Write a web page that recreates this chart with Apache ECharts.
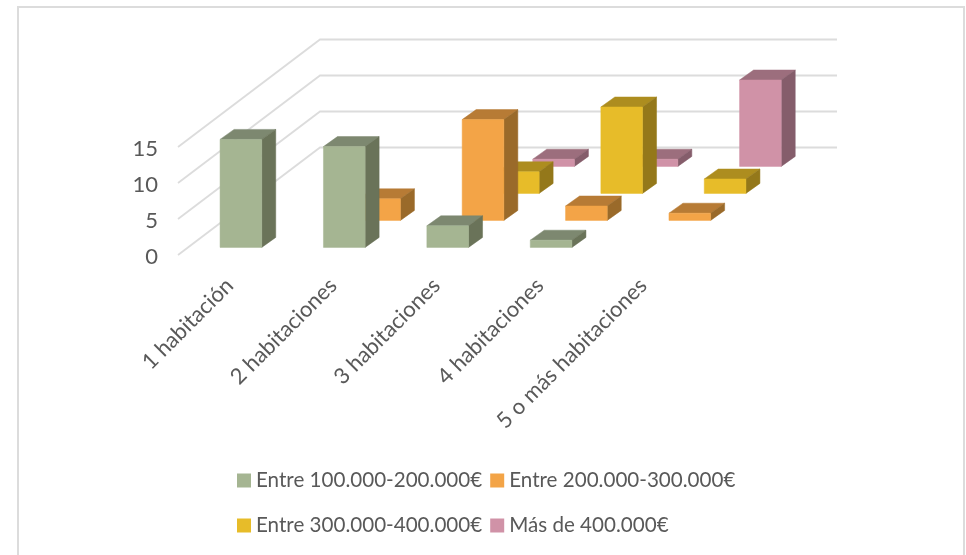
<!DOCTYPE html>
<html><head><meta charset="utf-8">
<style>html,body{margin:0;padding:0;background:#fff}#c{width:966px;height:555px}</style>
<script src="https://cdn.jsdelivr.net/npm/echarts@6/dist/echarts.min.js"></script>
</head><body><div id="c"></div>
<script>
const categories = ['1 habitación','2 habitaciones','3 habitaciones','4 habitaciones','5 o más habitaciones'];
const seriesNames = ['Entre 100.000-200.000€','Entre 200.000-300.000€','Entre 300.000-400.000€','Más de 400.000€'];
const values1 = [15,14,3,1,0];
const values2 = [0,3,14,2,1];
const values3 = [0,0,3,12,2];
const values4 = [0,0,1,1,12];
const yTicks = [0,5,10,15];
const allValues = [values1,values2,values3,values4];
const frontColors = ['#A5B592','#F3A447','#E7BC29','#D092A7'];
const topColors = ['#7D8870','#B77B35','#AD8D1F','#9C6E7D'];
const sideColors = ['#6A7359','#9A6A2A','#94781A','#855D6B'];

const WALL_DX = 142, WALL_DY = -107.5;      // floor depth of the 3D box
const FIRST_DX = 11.2, FIRST_DY = -7.6;     // first row from the front edge
const ROW_DX = 35.3, ROW_DY = -27;          // spacing between rows
const BAR_DX = 14, BAR_DY = -10;            // depth of one bar
const BAR_W = 0.403;                        // share of the category band

function barRenderer(row){
  return function(params, api){
    const cat = api.value(0), v = api.value(1);
    if(!v) return null;
    const band = api.size([1,0])[0], w = band*BAR_W;
    const ox = FIRST_DX + ROW_DX*row, oy = FIRST_DY + ROW_DY*row;
    const base = api.coord([cat,0]), top = api.coord([cat,v]);
    const x0 = base[0]+ox-w/2, x1 = x0+w, yb = base[1]+oy, yt = top[1]+oy;
    const poly = (pts,fill)=>({type:'polygon',shape:{points:pts},style:{fill:fill,stroke:fill,lineWidth:0.5}});
    return {type:'group',children:[
      poly([[x0,yt],[x1,yt],[x1+BAR_DX,yt+BAR_DY],[x0+BAR_DX,yt+BAR_DY]],topColors[row]),
      poly([[x1,yt],[x1+BAR_DX,yt+BAR_DY],[x1+BAR_DX,yb+BAR_DY],[x1,yb]],sideColors[row]),
      poly([[x0,yt],[x1,yt],[x1,yb],[x0,yb]],frontColors[row])
    ]};
  };
}
function wallRenderer(params, api){
  const y = api.coord([0,api.value(0)])[1], cs = params.coordSys;
  return {type:'polyline',shape:{points:[[cs.x,y],[cs.x+WALL_DX,y+WALL_DY],[cs.x+cs.width+WALL_DX,y+WALL_DY]]},
    style:{fill:'none',stroke:'#DCDCDC',lineWidth:1.8}};
}
const font = 'Lato';
const chart = echarts.init(document.getElementById('c'),null,{renderer:'canvas'});
chart.setOption({
  animation:false,
  backgroundColor:'#fff',
  graphic:[{type:'rect',shape:{x:18,y:7,width:946,height:570},style:{fill:'none',stroke:'#DCDCDC',lineWidth:2},silent:true}],
  legend:[
    {data:seriesNames.slice(0,2),left:237,top:470,itemWidth:14,itemHeight:14,itemGap:8,icon:'rect',
     textStyle:{fontFamily:font,fontSize:20.6,color:'#595959'},selectedMode:false,padding:0},
    {data:seriesNames.slice(2),left:237,top:515,itemWidth:14,itemHeight:14,itemGap:8,icon:'rect',
     textStyle:{fontFamily:font,fontSize:20.6,color:'#595959'},selectedMode:false,padding:0}
  ],
  grid:{left:178,top:147,width:517,height:108,containLabel:false},
  xAxis:{type:'category',data:categories,axisLine:{show:false},axisTick:{show:false},splitLine:{show:false},
    axisLabel:{rotate:45,interval:0,margin:27,fontFamily:font,fontSize:22,color:'#595959'}},
  yAxis:{type:'value',min:0,max:15,interval:5,axisLine:{show:false},axisTick:{show:false},splitLine:{show:false},
    axisLabel:{margin:20,formatter:v=>yTicks.includes(v)?'{t|'+v+'}':'',
      rich:{t:{fontFamily:font,fontSize:22,color:'#595959',padding:[4,0,0,0]}}}},
  series:[
    {type:'custom',name:'wall',silent:true,z:1,clip:false,data:yTicks.map(v=>[v]),encode:{y:0},renderItem:wallRenderer}
  ].concat(seriesNames.map((n,i)=>({
    type:'custom',name:n,z:10-i,clip:false,silent:true,
    itemStyle:{color:frontColors[i]},
    data:allValues[i].map((v,c)=>[c,v]),encode:{x:0,y:1},renderItem:barRenderer(i)
  })))
});
</script></body></html>
